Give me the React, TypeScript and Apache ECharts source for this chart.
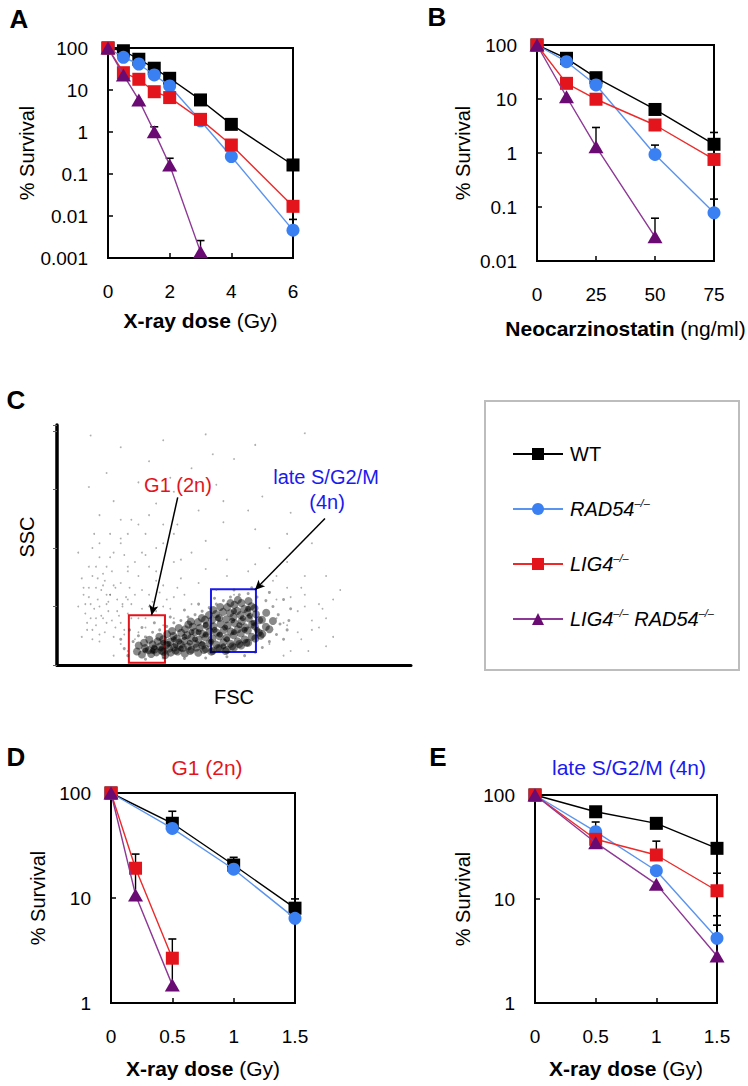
import React, { useEffect, useRef } from 'react';
import * as echarts from 'echarts';

const FONT = '"Liberation Sans", Arial, Helvetica, sans-serif';

// ---------- genotypes ----------
const genotypes = ['WT', 'RAD54–/–', 'LIG4–/–', 'LIG4–/– RAD54–/–'];

// ---------- Panel A : X-ray dose (Gy) ----------
const doseA = [0, 0.5, 1, 1.5, 2, 3, 4, 6];
const doseA_DKO = [0, 0.5, 1, 1.5, 2, 3];
const survA_WT = [100, 86, 54, 33, 19, 5.8, 1.52, 0.164];
const survA_RAD54 = [100, 60, 41.6, 22.8, 12.5, 1.85, 0.26, 0.0046];
const survA_LIG4 = [100, 25.8, 18, 9.1, 6.6, 2.0, 0.49, 0.017];
const survA_DKO = [100, 22.8, 5.8, 1.02, 0.164, 0.0014];
const errA = [
  [1.5, 1.02, 1.33],
  [2, 0.164, 0.237],
  [3, 0.0014, 0.0026],
  [6, 0.0046, 0.0083],
];

// ---------- Panel B : Neocarzinostatin (ng/ml) ----------
const doseB = [0, 12.5, 25, 50, 75];
const doseB_DKO = [0, 12.5, 25, 50];
const survB_WT = [100, 56.7, 24.8, 6.4, 1.45];
const survB_RAD54 = [100, 49, 18.2, 0.94, 0.078];
const survB_LIG4 = [100, 19.5, 9.9, 3.3, 0.76];
const survB_DKO = [100, 11, 1.31, 0.028];
const errB = [
  [25, 1.31, 2.97],
  [50, 0.028, 0.062],
  [50, 0.94, 1.4],
  [75, 0.078, 0.14],
  [75, 0.14, 2.4],
];

// ---------- Panel C : FSC / SSC events (hand-placed estimates) ----------
const cloudSparse: [number, number][] = [
  [95, 980], [180, 930], [300, 960], [420, 985], [560, 940], [700, 990], [260, 870], [140, 820],
  [380, 840], [500, 880], [620, 830], [90, 760], [230, 780], [330, 740], [450, 770], [580, 720],
  [160, 700], [280, 690], [400, 660], [120, 640], [210, 620], [340, 600], [470, 610], [560, 580],
  [650, 560], [250, 560], [180, 540], [300, 520], [420, 530], [720, 520], [100, 500], [600, 500],
  [380, 480], [250, 470], [150, 460], [480, 450], [330, 440], [200, 420], [90, 420], [560, 430],
  [650, 440], [420, 410], [280, 400], [130, 390], [230, 380], [350, 370], [70, 370], [180, 350],
  [300, 340], [110, 330], [240, 320], [400, 350], [150, 300], [90, 290], [200, 280], [330, 290],
  [120, 250], [260, 250], [170, 230], [80, 220], [210, 200], [140, 180], [100, 150], [190, 150],
  [160, 120], [220, 110], [120, 100], [650, 330], [700, 300], [620, 280], [740, 260], [680, 230],
  [760, 200], [640, 180], [720, 150], [690, 110], [600, 90], [780, 120], [660, 60], [700, 380],
  [610, 360], [800, 320], [760, 380], [540, 400], [480, 380], [450, 320], [500, 300], [380, 260],
  [330, 200], [280, 230], [300, 170], [250, 160], [230, 140], [200, 60], [180, 90], [160, 40],
  [140, 300], [110, 200], [75, 300], [85, 180], [130, 340], [60, 250], [190, 470], [105, 560],
  [60, 480], [470, 700], [540, 660], [320, 800], [440, 900], [660, 650], [95, 260], [125, 210],
  [145, 270], [165, 330], [185, 260], [115, 370], [155, 400], [205, 330], [75, 330], [135, 140],
  [70, 120], [85, 150], [95, 200], [105, 240], [115, 280], [125, 320], [135, 360], [145, 230],
  [155, 190], [165, 160], [175, 210], [185, 250], [195, 290], [100, 110], [110, 170], [120, 130],
  [130, 200], [140, 260], [150, 300], [160, 340], [170, 280], [180, 180], [190, 130], [200, 220],
  [210, 260], [220, 300], [230, 200], [240, 240], [80, 260], [90, 330], [100, 380], [110, 420],
  [120, 460], [140, 420], [160, 480], [180, 520], [200, 400], [220, 440], [240, 480], [260, 420],
  [280, 360], [260, 300], [250, 200], [270, 270], [290, 310], [310, 280], [320, 240], [300, 250],
  [340, 330], [360, 300], [200, 560], [230, 600], [150, 560], [120, 520], [260, 640], [300, 600],
  [180, 620], [330, 560], [280, 500], [350, 450], [620, 200], [650, 170], [680, 140], [700, 250],
  [720, 190], [740, 160], [660, 290], [690, 330], [620, 380], [580, 340], [750, 240], [780, 280],
  [710, 60], [640, 40], [760, 80],
];
const cloudHalo: [number, number][] = [
  [200, 40], [215, 100], [230, 125], [250, 120], [270, 140], [290, 150], [310, 165], [330, 180],
  [350, 190], [370, 205], [390, 215], [410, 230], [430, 245], [450, 260], [470, 275], [490, 290],
  [515, 300], [540, 305], [565, 290], [590, 275], [610, 250], [625, 215], [630, 175], [620, 130],
  [600, 100], [580, 75], [560, 55], [530, 40], [480, 35], [420, 30], [360, 28], [300, 30],
  [250, 25], [190, 70], [180, 110], [205, 150], [240, 160], [275, 180], [320, 205], [360, 235],
  [400, 260], [445, 285], [500, 320], [550, 330], [600, 310], [640, 280], [660, 240], [655, 190],
  [650, 150], [640, 110],
];
const cloudCore: [number, number][] = [
  [226, 58], [231, 83], [240, 45], [249, 72], [246, 95],
  [259, 63], [270, 88], [266, 47], [261, 108], [276, 66],
  [281, 54], [291, 79], [284, 101], [289, 121], [296, 61],
  [301, 56], [309, 86], [300, 110], [311, 132], [306, 43], [317, 70],
  [321, 53], [331, 75], [320, 99], [329, 124], [325, 145], [335, 62],
  [341, 58], [350, 88], [339, 113], [351, 138], [344, 158], [356, 72],
  [361, 49], [370, 79], [360, 103], [368, 128], [362, 153], [371, 173], [376, 60],
  [380, 65], [391, 91], [379, 116], [390, 141], [383, 163], [378, 186], [394, 75],
  [399, 52], [410, 83], [400, 108], [411, 133], [403, 158], [398, 183], [409, 201], [415, 64],
  [420, 68], [430, 93], [419, 118], [431, 143], [423, 168], [418, 193], [429, 213], [436, 57],
  [440, 61], [450, 87], [439, 113], [451, 139], [442, 165], [438, 191], [449, 218], [441, 235], [455, 72],
  [460, 71], [470, 97], [459, 123], [471, 149], [462, 175], [458, 201], [469, 227], [461, 248], [476, 60],
  [480, 65], [490, 91], [479, 117], [491, 143], [482, 169], [478, 195], [489, 221], [481, 247], [490, 265], [495, 80],
  [500, 75], [510, 101], [499, 127], [511, 153], [502, 179], [498, 205], [509, 231], [501, 257], [511, 278], [515, 90],
  [520, 83], [530, 109], [519, 135], [531, 161], [522, 187], [518, 213], [529, 239], [521, 265], [535, 95],
  [540, 95], [550, 121], [539, 147], [551, 173], [542, 199], [538, 225], [549, 251], [541, 273],
  [560, 113], [570, 139], [559, 165], [571, 191], [562, 217], [558, 243], [575, 125],
  [580, 133], [590, 163], [579, 193], [591, 223],
  [600, 153], [610, 188],
];
const cloudDense: [number, number][] = [
  [250, 62], [275, 75], [295, 70], [315, 90], [335, 85], [345, 100], [360, 120], [375, 95],
  [390, 110], [400, 140], [420, 130], [435, 100], [445, 150], [460, 130], [475, 160], [480, 110],
  [495, 190], [500, 140], [515, 170], [525, 200], [530, 150], [545, 210], [555, 180], [565, 150],
  [420, 170], [380, 140], [330, 110], [300, 95], [270, 60], [455, 200], [500, 230], [540, 240],
  [470, 80], [410, 90], [350, 70],
];
// gates: [x1, y1, x2, y2]
const gateG1 = [203, 10, 305, 213];
const gateS = [435, 55, 562, 324];
// arrows: [fromX, fromY, toX, toY]
const arrowG1 = [341, 716, 267, 213];
const arrowS = [757, 626, 559, 320];

// ---------- Panel D : G1 (2n) ----------
const doseD = [0, 0.5, 1, 1.5];
const doseD_short = [0, 0.2, 0.5];
const survD_WT = [100, 51.5, 20.6, 8.0];
const survD_RAD54 = [100, 46, 18.8, 6.4];
const survD_LIG4 = [100, 19.2, 2.67];
const survD_DKO = [100, 10.7, 1.48];
const errD = [
  [0.5, 51.5, 67],
  [1, 20.6, 24.4],
  [1.5, 8.0, 9.8],
  [0.2, 12, 26.2],
  [0.5, 1.5, 4.07],
];

// ---------- Panel E : late S/G2/M (4n) ----------
const doseE = [0, 0.5, 1, 1.5];
const survE_WT = [100, 69, 53.4, 30.7];
const survE_RAD54 = [100, 44.4, 18.7, 4.19];
const survE_LIG4 = [100, 37.5, 26.5, 12.0];
const survE_DKO = [100, 34.8, 13.9, 2.83];
const errE = [
  [0.5, 44.4, 55],
  [1, 26.5, 36],
  [1.5, 12, 17.7],
  [1.5, 4.19, 6.9],
  [1.5, 2.83, 5.6],
  [1.5, 12, 30.7],
];

// ---------- styles ----------
const lineColors = ['#000000', '#5b94ee', '#ec2a2a', '#8d3895'];
const markerColors = ['#000000', '#3b80f3', '#e3141c', '#6a0b73'];
const symbols = ['rect', 'circle', 'rect', 'triangle'];
const symbolSizes: any[] = [13, 13, 13, [15, 13]];

const zip = (xs: number[], ys: number[]) => xs.map((x, i) => [x, ys[i]]);

function lineSeries(g: number, axis: number, xs: number[], ys: number[]) {
  return {
    type: 'line',
    name: genotypes[g],
    xAxisIndex: axis,
    yAxisIndex: axis,
    data: zip(xs, ys),
    symbol: symbols[g],
    symbolSize: symbolSizes[g],
    showSymbol: true,
    clip: false,
    z: 3 + g,
    lineStyle: { color: lineColors[g], width: 1.4 },
    itemStyle: { color: markerColors[g] },
  };
}

function errSeries(axis: number, data: number[][]) {
  return {
    type: 'custom',
    name: 'error' + axis,
    xAxisIndex: axis,
    yAxisIndex: axis,
    data,
    z: 2,
    silent: true,
    clip: false,
    encode: { x: 0, y: [1, 2] },
    renderItem: (_p: any, api: any) => {
      const x = api.value(0);
      const top = api.coord([x, api.value(2)]);
      const bot = api.coord([x, api.value(1)]);
      return {
        type: 'group',
        children: [
          { type: 'line', shape: { x1: top[0], y1: top[1], x2: bot[0], y2: bot[1] }, style: { stroke: '#000', lineWidth: 1.4 } },
          { type: 'line', shape: { x1: top[0] - 4, y1: top[1], x2: top[0] + 4, y2: top[1] }, style: { stroke: '#000', lineWidth: 1.6 } },
        ],
      };
    },
  };
}

const logFmt = (v: number) => String(Number(Number(v).toPrecision(3)));

function xAxisCfg(gridIndex: number, min: number, max: number, interval: number, name: string, nameGap: number) {
  return {
    type: 'value',
    gridIndex,
    min,
    max,
    interval,
    axisLine: { show: true, onZero: false, lineStyle: { color: '#000', width: 2 } },
    axisTick: { show: true, inside: true, length: 5, lineStyle: { color: '#000', width: 1.5 } },
    axisLabel: { fontSize: 19, color: '#000', margin: 24, fontFamily: FONT },
    splitLine: { show: false },
    name,
    nameLocation: 'middle',
    nameGap,
    nameTextStyle: {
      fontSize: 21,
      color: '#000',
      fontFamily: FONT,
      rich: { b: { fontSize: 21, fontWeight: 'bold', color: '#000', fontFamily: FONT } },
    },
  };
}

function yLogCfg(gridIndex: number, min: number, max: number, nameGap: number) {
  return {
    type: 'log',
    logBase: 10,
    gridIndex,
    min,
    max,
    axisLine: { show: true, onZero: false, lineStyle: { color: '#000', width: 2 } },
    axisTick: { show: true, inside: true, length: 5, lineStyle: { color: '#000', width: 1.5 } },
    axisLabel: { fontSize: 19, color: '#000', margin: 20, fontFamily: FONT, formatter: logFmt },
    splitLine: { show: false },
    minorTick: { show: false },
    name: '% Survival',
    nameLocation: 'middle',
    nameGap,
    nameRotate: 90,
    nameTextStyle: { fontSize: 20, color: '#000', fontFamily: FONT },
  };
}

const boxGrid = { show: true, borderColor: '#000', borderWidth: 2, backgroundColor: 'transparent' };

const legendRich: Record<string, string> = {
  'WT': '{n|WT}',
  'RAD54–/–': '{i|RAD54}{s|–/–}',
  'LIG4–/–': '{i|LIG4}{s|–/–}',
  'LIG4–/– RAD54–/–': '{i|LIG4}{s|–/–}{i| RAD54}{s|–/–}',
};

function buildOption() {
  const txt = (text: string, x: number, y: number, size: number, fill: string, weight = 'normal') => ({
    type: 'text',
    x,
    y,
    silent: true,
    style: { text, fontSize: size, fontWeight: weight, fontFamily: FONT, fill, align: 'center', verticalAlign: 'middle' },
  });

  return {
    animation: false,
    backgroundColor: '#ffffff',
    textStyle: { fontFamily: FONT },
    grid: [
      { left: 108, top: 48, width: 185, height: 210, ...boxGrid },
      { left: 537, top: 45, width: 177, height: 216, ...boxGrid },
      { left: 57, top: 425, width: 354, height: 240, show: false },
      { left: 111, top: 793, width: 184, height: 210, ...boxGrid },
      { left: 535, top: 795, width: 182, height: 208, ...boxGrid },
    ],
    xAxis: [
      xAxisCfg(0, 0, 6, 2, '{b|X-ray dose} (Gy)', 52),
      xAxisCfg(1, 0, 75, 25, '{b|Neocarzinostatin} (ng/ml)', 57),
      {
        type: 'value', gridIndex: 2, min: 0, max: 1000,
        axisLine: { show: true, onZero: false, lineStyle: { color: '#000', width: 3 } },
        axisTick: { show: false }, axisLabel: { show: false }, splitLine: { show: false },
        name: 'FSC', nameLocation: 'middle', nameGap: 22,
        nameTextStyle: { fontSize: 20, color: '#000', fontFamily: FONT },
      },
      xAxisCfg(3, 0, 1.5, 0.5, '{b|X-ray dose} (Gy)', 55),
      xAxisCfg(4, 0, 1.5, 0.5, '{b|X-ray dose} (Gy)', 55),
    ],
    yAxis: [
      yLogCfg(0, 0.001, 100, 67),
      yLogCfg(1, 0.01, 100, 64),
      {
        type: 'value', gridIndex: 2, min: 0, max: 1025, interval: 250,
        axisLine: { show: true, onZero: false, lineStyle: { color: '#000', width: 3.5 } },
        axisTick: { show: true, inside: false, length: 4, lineStyle: { color: '#666', width: 1 } },
        axisLabel: { show: false }, splitLine: { show: false },
        name: 'SSC', nameLocation: 'middle', nameGap: 20, nameRotate: 90,
        nameTextStyle: { fontSize: 20, color: '#000', fontFamily: FONT, padding: [0, 0, 0, 16] },
      },
      yLogCfg(3, 1, 100, 63),
      yLogCfg(4, 1, 100, 62),
    ],
    legend: {
      data: genotypes,
      orient: 'vertical',
      left: 507,
      top: 439,
      itemWidth: 50,
      itemHeight: 15,
      itemGap: 33,
      selectedMode: false,
      formatter: (name: string) => legendRich[name] || name,
      textStyle: {
        fontFamily: FONT,
        fontSize: 20,
        color: '#000',
        padding: [0, 0, 0, 2],
        rich: {
          n: { fontSize: 20, fontFamily: FONT, color: '#000', lineHeight: 24 },
          i: { fontSize: 20, fontStyle: 'italic', fontFamily: FONT, color: '#000', lineHeight: 24 },
          s: { fontSize: 11, fontStyle: 'italic', fontFamily: FONT, color: '#000', lineHeight: 13, verticalAlign: 'top' },
        },
      },
    },
    series: [
      // A
      errSeries(0, errA),
      lineSeries(0, 0, doseA, survA_WT),
      lineSeries(1, 0, doseA, survA_RAD54),
      lineSeries(2, 0, doseA, survA_LIG4),
      lineSeries(3, 0, doseA_DKO, survA_DKO),
      // B
      errSeries(1, errB),
      lineSeries(0, 1, doseB, survB_WT),
      lineSeries(1, 1, doseB, survB_RAD54),
      lineSeries(2, 1, doseB, survB_LIG4),
      lineSeries(3, 1, doseB_DKO, survB_DKO),
      // C
      {
        type: 'scatter', name: 'events sparse', xAxisIndex: 2, yAxisIndex: 2, data: cloudSparse,
        symbolSize: 1.8, silent: true, itemStyle: { color: 'rgba(70,70,70,0.55)' },
      },
      {
        type: 'scatter', name: 'events halo', xAxisIndex: 2, yAxisIndex: 2, data: cloudHalo,
        symbolSize: 3, silent: true, itemStyle: { color: 'rgba(40,40,40,0.55)' },
      },
      {
        type: 'scatter', name: 'events core', xAxisIndex: 2, yAxisIndex: 2, data: cloudCore,
        symbolSize: 8, silent: true, itemStyle: { color: 'rgba(0,0,0,0.58)' },
        markArea: {
          silent: true,
          data: [
            [
              { coord: [gateG1[0], gateG1[1]], itemStyle: { color: 'rgba(0,0,0,0)', borderColor: '#e3141c', borderWidth: 2 } },
              { coord: [gateG1[2], gateG1[3]] },
            ],
            [
              { coord: [gateS[0], gateS[1]], itemStyle: { color: 'rgba(0,0,0,0)', borderColor: '#1a1aef', borderWidth: 2 } },
              { coord: [gateS[2], gateS[3]] },
            ],
          ],
        },
        markLine: {
          silent: true,
          symbol: ['none', 'arrow'],
          symbolSize: [7, 10],
          lineStyle: { color: '#000', width: 1.5, type: 'solid' },
          label: { show: false },
          data: [
            [{ coord: [arrowG1[0], arrowG1[1]] }, { coord: [arrowG1[2], arrowG1[3]] }],
            [{ coord: [arrowS[0], arrowS[1]] }, { coord: [arrowS[2], arrowS[3]] }],
          ],
        },
      },
      {
        type: 'scatter', name: 'events dense', xAxisIndex: 2, yAxisIndex: 2, data: cloudDense,
        symbolSize: 6, silent: true, itemStyle: { color: 'rgba(0,0,0,0.7)' },
      },
      // D
      errSeries(3, errD),
      lineSeries(0, 3, doseD, survD_WT),
      lineSeries(1, 3, doseD, survD_RAD54),
      lineSeries(2, 3, doseD_short, survD_LIG4),
      lineSeries(3, 3, doseD_short, survD_DKO),
      // E
      errSeries(4, errE),
      lineSeries(0, 4, doseE, survE_WT),
      lineSeries(1, 4, doseE, survE_RAD54),
      lineSeries(2, 4, doseE, survE_LIG4),
      lineSeries(3, 4, doseE, survE_DKO),
    ],
    graphic: [
      {
        type: 'rect', silent: true, z: -1,
        shape: { x: 485, y: 401, width: 254, height: 269 },
        style: { fill: 'none', stroke: '#bdbdbd', lineWidth: 2 },
      },
      txt('A', 19, 19, 26, '#000', 'bold'),
      txt('B', 437, 17, 26, '#000', 'bold'),
      txt('C', 16, 400, 26, '#000', 'bold'),
      txt('D', 16, 757, 26, '#000', 'bold'),
      txt('E', 438, 757, 26, '#000', 'bold'),
      txt('G1 (2n)', 178, 485, 20, '#e3141c'),
      txt('late S/G2/M', 326, 477, 20, '#1a1aef'),
      txt('(4n)', 327, 502, 20, '#1a1aef'),
      txt('G1 (2n)', 207, 767, 21, '#e3141c'),
      txt('late S/G2/M (4n)', 629, 767, 21, '#1a1aef'),
    ],
  };
}

export default function App() {
  const ref = useRef<HTMLDivElement>(null);
  useEffect(() => {
    if (!ref.current) return;
    const chart = echarts.init(ref.current, null, { renderer: 'svg' });
    chart.setOption(buildOption() as any);
    return () => chart.dispose();
  }, []);
  return (
    <div
      ref={ref}
      style={{ position: 'absolute', left: 0, top: 0, width: 748, height: 1086, background: '#fff' }}
    />
  );
}
